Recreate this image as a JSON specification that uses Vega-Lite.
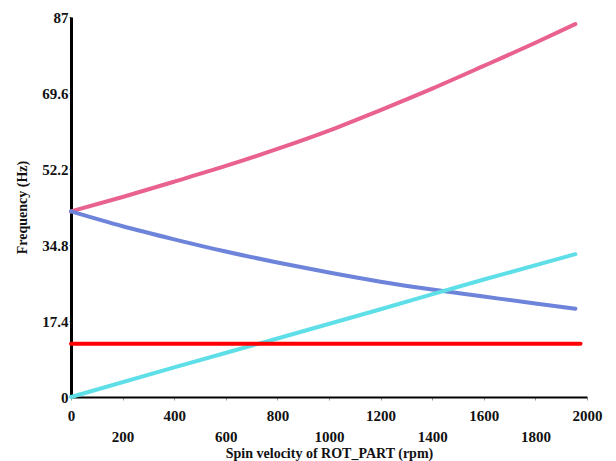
{
  "$schema": "https://vega.github.io/schema/vega-lite/v6.json",
  "autosize": {"type": "none"},
  "padding": {"left": 71, "top": 17, "right": 29, "bottom": 64},
  "width": 516,
  "height": 380,
  "background": "white",
  "config": {
    "view": {"stroke": null},
    "font": "Liberation Serif"
  },
  "data": {
    "values": [
      {"rpm": 0, "freq": 42.5, "mode": "forward"},
      {"rpm": 200, "freq": 45.8, "mode": "forward"},
      {"rpm": 400, "freq": 49.3, "mode": "forward"},
      {"rpm": 600, "freq": 52.9, "mode": "forward"},
      {"rpm": 800, "freq": 56.8, "mode": "forward"},
      {"rpm": 1000, "freq": 61.0, "mode": "forward"},
      {"rpm": 1200, "freq": 65.7, "mode": "forward"},
      {"rpm": 1400, "freq": 70.6, "mode": "forward"},
      {"rpm": 1600, "freq": 75.8, "mode": "forward"},
      {"rpm": 1800, "freq": 81.1, "mode": "forward"},
      {"rpm": 1955, "freq": 85.4, "mode": "forward"},
      {"rpm": 0, "freq": 42.5, "mode": "backward"},
      {"rpm": 200, "freq": 39.1, "mode": "backward"},
      {"rpm": 400, "freq": 36.1, "mode": "backward"},
      {"rpm": 600, "freq": 33.3, "mode": "backward"},
      {"rpm": 800, "freq": 30.8, "mode": "backward"},
      {"rpm": 1000, "freq": 28.5, "mode": "backward"},
      {"rpm": 1200, "freq": 26.4, "mode": "backward"},
      {"rpm": 1400, "freq": 24.6, "mode": "backward"},
      {"rpm": 1600, "freq": 23.0, "mode": "backward"},
      {"rpm": 1800, "freq": 21.4, "mode": "backward"},
      {"rpm": 1955, "freq": 20.2, "mode": "backward"},
      {"rpm": 0, "freq": 0, "mode": "spin"},
      {"rpm": 400, "freq": 6.8, "mode": "spin"},
      {"rpm": 800, "freq": 13.4, "mode": "spin"},
      {"rpm": 1200, "freq": 20.1, "mode": "spin"},
      {"rpm": 1600, "freq": 26.9, "mode": "spin"},
      {"rpm": 1955, "freq": 32.7, "mode": "spin"},
      {"rpm": 0, "freq": 12.2, "mode": "constant"},
      {"rpm": 1975, "freq": 12.2, "mode": "constant"}
    ]
  },
  "mark": {"type": "line", "strokeWidth": 4, "strokeCap": "round", "strokeJoin": "round", "interpolate": "monotone", "clip": false},
  "encoding": {
    "x": {
      "field": "rpm",
      "type": "quantitative",
      "scale": {"domain": [0, 2000], "nice": false, "zero": false},
      "axis": {
        "title": "Spin velocity of ROT_PART (rpm)",
        "values": [0, 200, 400, 600, 800, 1000, 1200, 1400, 1600, 1800, 2000],
        "labelExpr": "datum.value % 400 == 200 ? ['', datum.label] : datum.label",
        "format": "d",
        "labelLineHeight": 21,
        "labelFont": "Liberation Serif",
        "labelFontWeight": "bold",
        "labelFontSize": 15,
        "labelColor": "#111",
        "labelPadding": 8,
        "labelDx": 4,
        "labelFlush": false,
        "labelOverlap": false,
        "labelBound": false,
        "grid": false,
        "domainColor": "#000",
        "domainWidth": 2,
        "tickColor": "#999",
        "tickSize": 3,
        "tickWidth": 1,
        "titleFont": "Liberation Serif",
        "titleFontWeight": "bold",
        "titleFontSize": 14,
        "titleColor": "#111",
        "titleBaseline": "alphabetic",
        "titleY": 60
      }
    },
    "y": {
      "field": "freq",
      "type": "quantitative",
      "scale": {"domain": [0, 87], "nice": false},
      "axis": {
        "title": "Frequency (Hz)",
        "values": [0, 17.4, 34.8, 52.2, 69.6, 87],
        "format": ".1~f",
        "labelFont": "Liberation Serif",
        "labelFontWeight": "bold",
        "labelFontSize": 15,
        "labelColor": "#111",
        "labelPadding": 1,
        "labelFlush": false,
        "labelOverlap": false,
        "grid": false,
        "domainColor": "#000",
        "domainWidth": 3,
        "tickColor": "#555",
        "tickSize": 2,
        "titleFont": "Liberation Serif",
        "titleFontWeight": "bold",
        "titleFontSize": 14,
        "titleColor": "#111",
        "titleBaseline": "middle",
        "titleX": -49
      }
    },
    "color": {
      "field": "mode",
      "type": "nominal",
      "scale": {
        "domain": ["forward", "backward", "spin", "constant"],
        "range": ["#E9618E", "#6D84DA", "#5EDFE8", "#FF0000"]
      },
      "legend": null
    },
    "order": {"field": "rpm", "type": "quantitative"}
  }
}
